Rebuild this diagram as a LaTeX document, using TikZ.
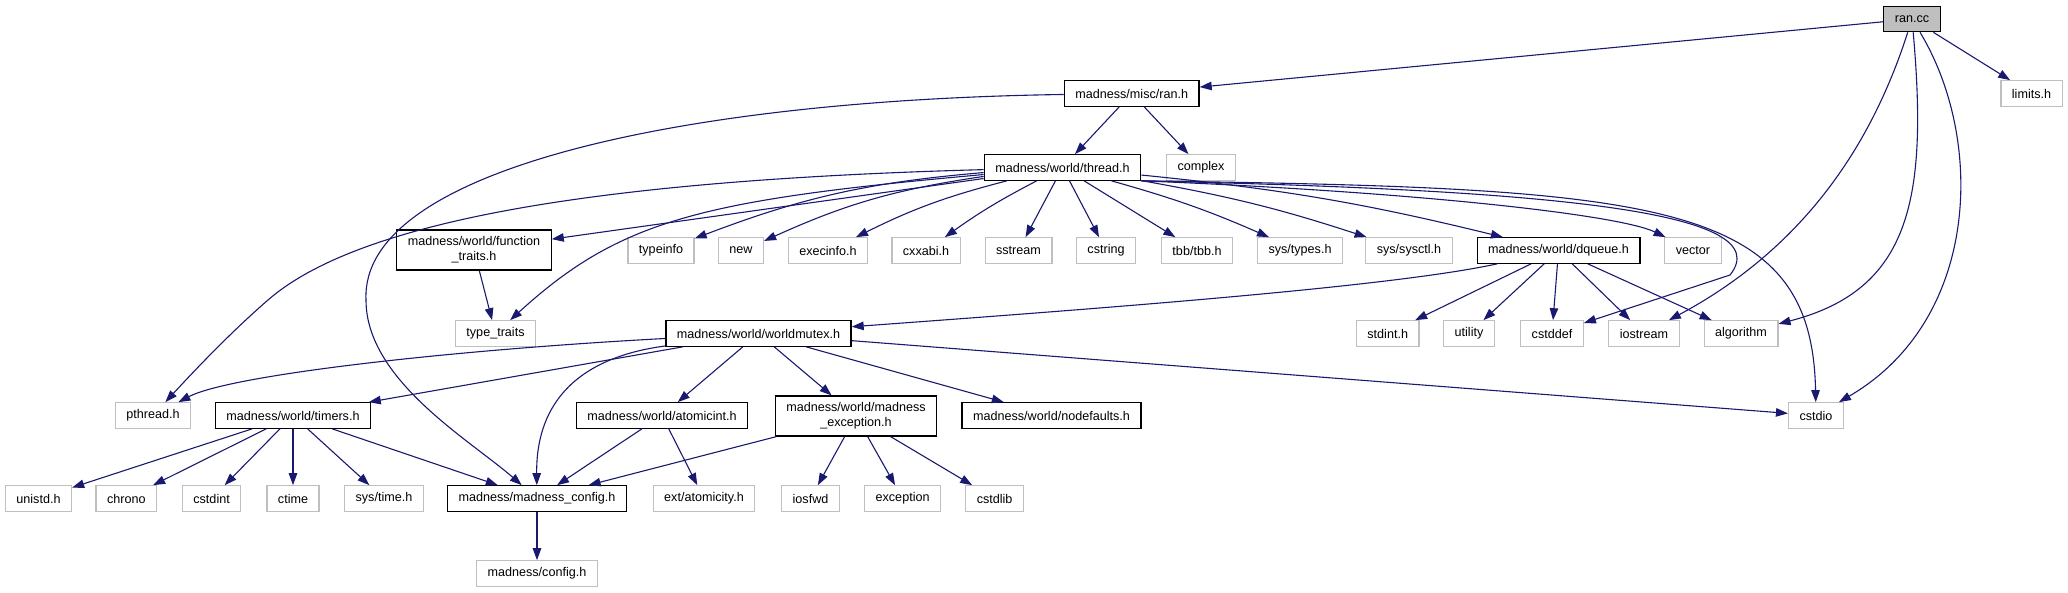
\documentclass[tikz,border=0pt]{standalone}
\usepackage{fontspec}
\setmainfont{Liberation Sans}
\usetikzlibrary{arrows.meta}
\definecolor{edgeblue}{HTML}{191970}
\definecolor{extgray}{HTML}{BFBFBF}

\begin{document}
\begin{tikzpicture}[x=1pt, y=-1pt, every node/.style={font=\fontsize{12.6}{15}\selectfont}]
  \tikzstyle{hdr} = [rectangle, draw=black, line width=1.2pt, fill=white, inner xsep=11pt, inner ysep=0pt,
                     minimum height=25.5pt, align=center]
  \tikzstyle{ext} = [hdr, draw=extgray]
  \tikzstyle{root} = [hdr, fill=extgray]
  \tikzstyle{arrow} = [line width=1.1pt, draw=edgeblue, -{Triangle[length=12pt,width=8.5pt]}]
  \useasboundingbox (0,0) rectangle (2068,592);
  % top rows
  \node (rancc) [root] at (1912,19) {ran.cc};
  \node (limits) [ext] at (2031.5,93.5) {limits.h};
  \node (ranh) [hdr] at (1131.7,93.5) {madness/misc/ran.h};
  \node (threadh) [hdr] at (1062.5,167.5) {madness/world/thread.h};
  \node (complex) [ext] at (1201,167.5) {complex};
  % thread.h includes
  \node (functraits) [hdr, minimum height=40pt] at (474,250) {madness/world/function\\\_traits.h};
  \node (typeinfo) [ext] at (661,250.5) {typeinfo};
  \node (new) [ext] at (741,250.5) {new};
  \node (execinfo) [ext] at (828,250.5) {execinfo.h};
  \node (cxxabi) [ext] at (926,250.5) {cxxabi.h};
  \node (sstream) [ext] at (1018.5,250.5) {sstream};
  \node (cstring) [ext] at (1106,250.5) {cstring};
  \node (tbb) [ext] at (1197,250.5) {tbb/tbb.h};
  \node (systypes) [ext] at (1300,250.5) {sys/types.h};
  \node (sysctl) [ext] at (1409,250.5) {sys/sysctl.h};
  \node (dqueue) [hdr] at (1558.5,250.5) {madness/world/dqueue.h};
  \node (vector) [ext] at (1693,250.5) {vector};
  % third row
  \node (typetraits) [ext] at (495.5,333.5) {type\_traits};
  \node (wmutex) [hdr] at (758.5,333.5) {madness/world/worldmutex.h};
  \node (stdint) [ext] at (1387.7,333.5) {stdint.h};
  \node (utility) [ext] at (1469,333.5) {utility};
  \node (cstddef) [ext] at (1552,333.5) {cstddef};
  \node (iostream) [ext] at (1644,333.5) {iostream};
  \node (algorithm) [ext] at (1741,333.5) {algorithm};
  % fourth row
  \node (pthread) [ext] at (153,415.5) {pthread.h};
  \node (timers) [hdr] at (293,415.5) {madness/world/timers.h};
  \node (atomicint) [hdr] at (662,415.5) {madness/world/atomicint.h};
  \node (mexcept) [hdr, minimum height=40pt] at (856,416) {madness/world/madness\\\_exception.h};
  \node (nodefaults) [hdr] at (1051.5,415.5) {madness/world/nodefaults.h};
  \node (cstdio) [ext] at (1816,415.5) {cstdio};
  % bottom rows
  \node (unistd) [ext] at (38.5,498.5) {unistd.h};
  \node (chrono) [ext] at (126.3,498.5) {chrono};
  \node (cstdint) [ext] at (211.6,498.5) {cstdint};
  \node (ctime) [ext] at (293,498.5) {ctime};
  \node (systime) [ext] at (384,498.5) {sys/time.h};
  \node (mconfig) [hdr] at (537,498.5) {madness/madness\_config.h};
  \node (atomicity) [ext] at (704,498.5) {ext/atomicity.h};
  \node (iosfwd) [ext] at (810.5,498.5) {iosfwd};
  \node (exception) [ext] at (902.6,498.5) {exception};
  \node (cstdlib) [ext] at (994.6,498.5) {cstdlib};
  \node (config) [ext] at (537,573.5) {madness/config.h};
  % ran.cc
  \draw [arrow] (rancc) -- (ranh);
  \draw [arrow] (rancc) -- (limits);
  \draw [arrow] (rancc) .. controls (1870,150) and (1800,250) .. (iostream);
  \draw [arrow] (rancc) .. controls (1928,200) and (1910,290) .. (algorithm);
  \draw [arrow] (rancc) .. controls (1985,140) and (1980,320) .. (cstdio);
  % ran.h
  \draw [arrow] (ranh) -- (threadh);
  \draw [arrow] (ranh) -- (complex);
  \draw [arrow] (ranh) .. controls (680,100) and (360,170) .. (366,300)
                       .. controls (366,380) and (470,440) .. (mconfig);
  % thread.h
  \draw [arrow] (threadh) .. controls (600,180) and (360,220) .. (268,300)
                          .. controls (230,333) and (195,370) .. (pthread);
  \draw [arrow] (threadh) -- (functraits);
  \draw [arrow] (threadh) .. controls (700,200) and (620,220) .. (typetraits);
  \draw [arrow] (threadh) to[bend right=8] (typeinfo);
  \draw [arrow] (threadh) to[bend right=8] (new);
  \draw [arrow] (threadh) to[bend right=6] (execinfo);
  \draw [arrow] (threadh) to[bend right=4] (cxxabi);
  \draw [arrow] (threadh) -- (sstream);
  \draw [arrow] (threadh) -- (cstring);
  \draw [arrow] (threadh) -- (tbb);
  \draw [arrow] (threadh) to[bend left=4] (systypes);
  \draw [arrow] (threadh) to[bend left=4] (sysctl);
  \draw [arrow] (threadh) to[bend left=4] (dqueue);
  \draw [arrow] (threadh.south east) .. controls (1420,192) and (1620,215) .. (vector);
  \draw [arrow] (threadh.south east) .. controls (1560,190) and (1780,212) .. (1730,275) -- (cstddef);
  \draw [arrow] (threadh.south east) .. controls (1660,188) and (1812,200) .. (cstdio);
  \draw [arrow] (functraits) -- (typetraits);
  % dqueue.h
  \draw [arrow] (dqueue) .. controls (1400,285) and (1150,305) .. (wmutex);
  \draw [arrow] (dqueue) -- (stdint);
  \draw [arrow] (dqueue) -- (utility);
  \draw [arrow] (dqueue) -- (cstddef);
  \draw [arrow] (dqueue) -- (iostream);
  \draw [arrow] (dqueue) -- (algorithm);
  % worldmutex.h
  \draw [arrow] (wmutex) .. controls (450,350) and (230,375) .. (pthread);
  \draw [arrow] (wmutex) -- (timers);
  \draw [arrow] (wmutex) .. controls (560,360) and (536,420) .. (mconfig);
  \draw [arrow] (wmutex) -- (atomicint);
  \draw [arrow] (wmutex) -- (mexcept);
  \draw [arrow] (wmutex) -- (nodefaults);
  \draw [arrow] (wmutex) -- (cstdio);
  % timers.h
  \draw [arrow] (timers) -- (unistd);
  \draw [arrow] (timers) -- (chrono);
  \draw [arrow] (timers) -- (cstdint);
  \draw [arrow] (timers) -- (ctime);
  \draw [arrow] (timers) -- (systime);
  \draw [arrow] (timers) -- (mconfig);
  % atomicint.h, madness_exception.h
  \draw [arrow] (atomicint) -- (mconfig);
  \draw [arrow] (atomicint) -- (atomicity);
  \draw [arrow] (mexcept) -- (mconfig);
  \draw [arrow] (mexcept) -- (iosfwd);
  \draw [arrow] (mexcept) -- (exception);
  \draw [arrow] (mexcept) -- (cstdlib);
  \draw [arrow] (mconfig) -- (config);
\end{tikzpicture}
\end{document}
